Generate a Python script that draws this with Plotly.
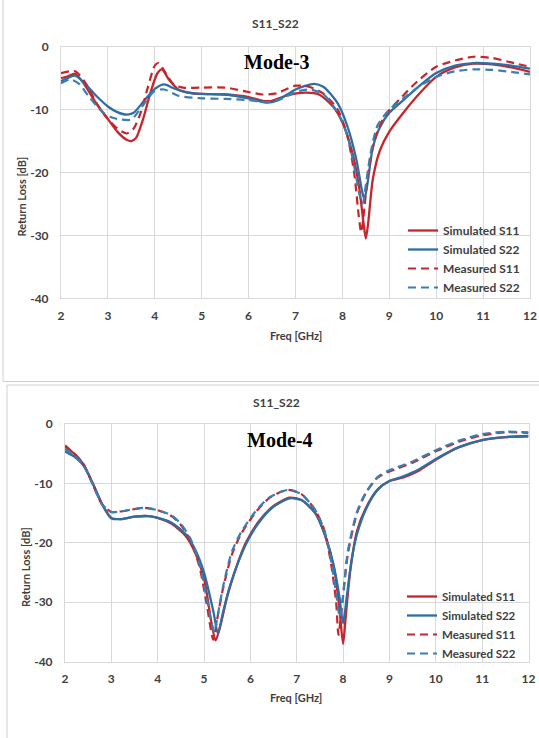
import plotly.graph_objects as go

W, H = 539, 738

# ---------------- Mode-3 (top panel) ----------------
m3_sim_s11_f = [2.0, 2.15, 2.3, 2.5, 2.75, 3.0, 3.2, 3.4, 3.5, 3.6, 3.75, 3.9, 4.05, 4.15, 4.3, 4.5, 4.8, 5.0, 5.5, 6.0, 6.3, 6.5, 6.8, 7.2, 7.5, 7.8, 8.0, 8.2, 8.35, 8.45, 8.5, 8.55, 8.65, 8.8, 9.0, 9.3, 9.6, 10.0, 10.4, 10.8, 11.2, 11.6, 12.0]
m3_sim_s11_db = [-5.0, -4.7, -4.3, -6.0, -9.0, -11.5, -13.5, -14.8, -15.0, -14.5, -11.5, -7.5, -4.3, -3.6, -5.2, -6.8, -7.4, -7.5, -7.6, -8.0, -8.6, -8.6, -7.8, -7.3, -7.6, -9.5, -12.0, -16.5, -22.0, -28.0, -30.5, -28.0, -21.0, -16.5, -13.5, -10.5, -7.8, -4.8, -3.3, -2.7, -2.8, -3.3, -4.0]

m3_sim_s22_f = [2.0, 2.3, 2.5, 2.75, 3.0, 3.2, 3.4, 3.55, 3.75, 4.0, 4.2, 4.4, 4.7, 5.0, 5.5, 6.0, 6.4, 6.6, 7.0, 7.4, 7.6, 7.9, 8.1, 8.3, 8.42, 8.47, 8.53, 8.65, 8.8, 9.0, 9.3, 9.6, 10.0, 10.4, 10.8, 11.2, 11.6, 12.0]
m3_sim_s22_db = [-5.5, -4.6, -5.8, -7.8, -9.5, -10.4, -10.8, -10.5, -8.8, -6.7, -6.0, -6.6, -7.3, -7.5, -7.6, -8.2, -8.9, -8.6, -6.8, -5.9, -6.4, -9.0, -12.5, -18.0, -23.0, -24.2, -22.0, -16.0, -12.8, -10.5, -8.5, -6.5, -4.2, -3.0, -2.6, -2.7, -3.0, -3.5]

m3_meas_s11_f = [2.0, 2.3, 2.5, 2.8, 3.0, 3.2, 3.4, 3.55, 3.7, 3.85, 4.0, 4.08, 4.2, 4.4, 4.6, 5.0, 5.5, 6.0, 6.3, 6.6, 7.0, 7.3, 7.6, 7.9, 8.1, 8.25, 8.35, 8.4, 8.45, 8.55, 8.7, 8.9, 9.2, 9.6, 10.0, 10.4, 10.8, 11.2, 11.6, 12.0]
m3_meas_s11_db = [-4.2, -3.9, -5.5, -9.5, -11.5, -13.0, -13.8, -13.0, -10.5, -6.5, -3.0, -2.6, -3.8, -6.0, -6.5, -6.5, -6.5, -7.2, -7.6, -7.4, -6.2, -6.4, -7.5, -10.0, -14.0, -20.0, -27.0, -29.5, -27.0, -20.0, -14.5, -11.0, -8.5, -5.5, -3.2, -2.2, -1.6, -1.8, -2.5, -3.2]

m3_meas_s22_f = [2.0, 2.2, 2.4, 2.6, 2.9, 3.1, 3.3, 3.5, 3.6, 3.8, 4.0, 4.2, 4.5, 5.0, 5.5, 6.0, 6.4, 6.7, 7.0, 7.3, 7.6, 7.9, 8.1, 8.25, 8.38, 8.43, 8.5, 8.6, 8.75, 9.0, 9.3, 9.6, 10.0, 10.4, 10.8, 11.2, 11.6, 12.0]
m3_meas_s22_db = [-5.8, -5.2, -6.0, -8.0, -10.5, -11.3, -11.6, -11.6, -10.8, -8.8, -7.0, -6.8, -7.8, -8.2, -8.3, -8.5, -8.8, -8.3, -7.2, -6.8, -7.6, -10.5, -14.0, -19.0, -24.0, -25.0, -22.0, -17.0, -12.5, -10.0, -8.2, -6.5, -4.8, -3.9, -3.6, -3.7, -4.0, -4.4]

# ---------------- Mode-4 (bottom panel) ----------------
m4_sim_s11_f = [2.0, 2.2, 2.4, 2.6, 2.8, 3.0, 3.2, 3.5, 3.8, 4.0, 4.3, 4.6, 4.8, 5.0, 5.15, 5.25, 5.35, 5.5, 5.7, 5.9, 6.2, 6.5, 6.85, 7.1, 7.4, 7.6, 7.8, 7.92, 8.0, 8.05, 8.15, 8.3, 8.5, 8.75, 9.0, 9.3, 9.6, 10.0, 10.5, 11.0, 11.5, 12.0]
m4_sim_s11_db = [-3.8, -5.0, -6.8, -10.0, -13.5, -15.8, -16.0, -15.6, -15.5, -15.8, -16.8, -18.8, -21.5, -26.0, -33.0, -36.4, -34.0, -29.0, -24.0, -20.0, -16.2, -13.8, -12.4, -12.8, -15.0, -18.5, -24.0, -31.0, -37.0, -33.0, -25.0, -18.0, -14.0, -11.0, -9.6, -9.0, -8.0, -6.0, -3.9, -2.7, -2.2, -2.0]

m4_sim_s22_f = [2.0, 2.2, 2.4, 2.6, 2.8, 3.0, 3.2, 3.5, 3.8, 4.0, 4.3, 4.6, 4.8, 5.0, 5.2, 5.3, 5.4, 5.55, 5.75, 5.95, 6.2, 6.5, 6.85, 7.1, 7.4, 7.6, 7.8, 7.92, 8.0, 8.08, 8.18, 8.3, 8.5, 8.75, 9.0, 9.3, 9.6, 10.0, 10.5, 11.0, 11.5, 12.0]
m4_sim_s22_db = [-4.6, -5.5, -7.0, -10.0, -13.5, -15.9, -16.0, -15.6, -15.5, -15.8, -16.6, -18.5, -21.0, -25.0, -31.5, -35.3, -32.0, -27.5, -23.0, -19.5, -16.4, -13.9, -12.5, -12.8, -15.0, -18.5, -24.0, -29.0, -33.5, -29.0, -23.0, -18.5, -14.2, -11.0, -9.6, -8.8, -7.8, -5.9, -3.9, -2.7, -2.2, -2.1]

m4_meas_s11_f = [2.0, 2.2, 2.4, 2.6, 2.8, 3.0, 3.3, 3.7, 4.0, 4.3, 4.5, 4.7, 4.9, 5.05, 5.2, 5.28, 5.4, 5.6, 5.8, 6.1, 6.4, 6.8, 7.1, 7.4, 7.6, 7.75, 7.85, 7.9, 7.97, 8.1, 8.3, 8.5, 8.75, 9.0, 9.5, 10.0, 10.5, 11.0, 11.5, 12.0]
m4_meas_s11_db = [-3.6, -5.0, -6.8, -10.2, -13.5, -14.8, -14.6, -14.1, -14.5, -15.5, -17.0, -19.5, -24.0, -30.0, -36.3, -33.0, -28.0, -22.0, -18.5, -15.0, -12.5, -11.1, -11.8, -14.5, -18.0, -24.0, -30.0, -35.5, -31.0, -22.0, -15.0, -11.5, -9.0, -8.0, -6.5, -4.6, -3.0, -1.9, -1.4, -1.5]

m4_meas_s22_f = [2.0, 2.2, 2.4, 2.6, 2.8, 3.0, 3.3, 3.7, 4.0, 4.3, 4.5, 4.7, 4.9, 5.05, 5.22, 5.3, 5.42, 5.6, 5.8, 6.1, 6.4, 6.8, 7.1, 7.4, 7.6, 7.75, 7.85, 7.93, 8.0, 8.1, 8.3, 8.5, 8.75, 9.0, 9.5, 10.0, 10.5, 11.0, 11.5, 12.0]
m4_meas_s22_db = [-4.2, -5.3, -7.0, -10.2, -13.5, -14.8, -14.6, -14.1, -14.5, -15.4, -16.8, -19.2, -23.5, -29.0, -35.0, -32.0, -27.0, -21.5, -18.2, -14.8, -12.4, -11.1, -11.8, -14.5, -18.0, -23.5, -28.5, -32.5, -29.0, -21.5, -14.8, -11.4, -8.9, -7.8, -6.3, -4.4, -2.8, -1.7, -1.3, -1.4]

x_ticks = [2, 3, 4, 5, 6, 7, 8, 9, 10, 11, 12]
x_tick_labels = ["2", "3", "4", "5", "6", "7", "8", "9", "10", "11", "12"]
y_ticks = [0, -10, -20, -30, -40]
y_tick_labels = ["0", "-10", "-20", "-30", "-40"]
series_names = ["Simulated S11", "Simulated S22", "Measured S11", "Measured S22"]
panel_titles = ["S11_S22", "S11_S22"]
mode_labels = ["Mode-3", "Mode-4"]

RED = "#C4262D"
BLUE = "#2D6FA3"
BLUE_D = "#3A7FB2"
FONT = "Lato"
TXT = "#404040"

def px(x):
    return x / W

def py(y):
    return 1 - y / H

fig = go.Figure()

styles = [
    dict(color=RED, width=2.3),
    dict(color=BLUE, width=2.3),
    dict(color=RED, width=2.2, dash="8px,5px"),
    dict(color=BLUE_D, width=2.2, dash="8px,5px"),
]

panels = [
    ([(m3_sim_s11_f, m3_sim_s11_db), (m3_sim_s22_f, m3_sim_s22_db),
      (m3_meas_s11_f, m3_meas_s11_db), (m3_meas_s22_f, m3_meas_s22_db)], "x", "y", "legend"),
    ([(m4_sim_s11_f, m4_sim_s11_db), (m4_sim_s22_f, m4_sim_s22_db),
      (m4_meas_s11_f, m4_meas_s11_db), (m4_meas_s22_f, m4_meas_s22_db)], "x2", "y2", "legend2"),
]

for data, xa, ya, lg in panels:
    for (f, d), name, st in zip(data, series_names, styles):
        fig.add_trace(go.Scatter(
            x=f, y=d, mode="lines", name=name, line=dict(shape="spline", smoothing=0.7, **st),
            xaxis=xa, yaxis=ya, legend=lg, hoverinfo="skip"))

axis_common = dict(
    showgrid=True, gridcolor="#D9D9D9", gridwidth=1, zeroline=False,
    showline=True, linecolor="#D9D9D9", linewidth=1, mirror=True, automargin=False,
    tickfont=dict(family=FONT, size=12, color=TXT, weight="bold"),
    ticks="outside", tickcolor="rgba(0,0,0,0)",
)

fig.update_layout(
    width=W, height=H, margin=dict(l=0, r=0, t=0, b=0, pad=0, autoexpand=False),
    paper_bgcolor="white", plot_bgcolor="white",
    xaxis=dict(domain=[px(61), px(530)], range=[2, 12], tickvals=x_ticks, ticktext=x_tick_labels, ticklen=6, anchor="y", **axis_common),
    yaxis=dict(domain=[py(298.3), py(46.7)], range=[-40, 0], tickvals=y_ticks, ticktext=y_tick_labels, ticklen=9, anchor="x", **axis_common),
    xaxis2=dict(domain=[px(65), px(528.5)], range=[2, 12], tickvals=x_ticks, ticktext=x_tick_labels, ticklen=6, anchor="y2", **axis_common),
    yaxis2=dict(domain=[py(661.7), py(424)], range=[-40, 0], tickvals=y_ticks, ticktext=y_tick_labels, ticklen=9, anchor="x2", **axis_common),
    legend=dict(x=px(403), y=py(216), xanchor="left", yanchor="top", bgcolor="rgba(0,0,0,0)",
                font=dict(family=FONT, size=12, color=TXT, weight="bold"), tracegroupgap=0, itemwidth=30),
    legend2=dict(x=px(402), y=py(582), xanchor="left", yanchor="top", bgcolor="rgba(0,0,0,0)",
                 font=dict(family=FONT, size=11.5, color=TXT, weight="bold"), tracegroupgap=0, itemwidth=30),
    showlegend=True,
)

anns = [
    (275, 24, panel_titles[0], FONT, 12, "bold"),
    (277, 62, mode_labels[0], "Liberation Serif", 20, "bold"),
    (296, 335, "Freq [GHz]", FONT, 11, "bold"),
    (276, 402, panel_titles[1], FONT, 12, "bold"),
    (280, 440, mode_labels[1], "Liberation Serif", 20, "bold"),
    (296, 697, "Freq [GHz]", FONT, 11, "bold"),
]
for x, y, t, fam, sz, wt in anns:
    fig.add_annotation(x=px(x), y=py(y), xref="paper", yref="paper", text=t, showarrow=False,
                       xanchor="center", yanchor="middle",
                       font=dict(family=fam, size=sz, color="#000000" if fam != FONT else TXT, weight=wt))

for x, y in [(20.5, 197), (25, 567)]:
    fig.add_annotation(x=px(x), y=py(y), xref="paper", yref="paper", text="Return Loss [dB]",
                       showarrow=False, textangle=-90, xanchor="center", yanchor="middle",
                       font=dict(family=FONT, size=11, color=TXT, weight="bold"))

# panel frames (kept inside the page)
frame = dict(color="#D0D0D0", width=1)
for x0, y0, x1, y1 in [(3, 0, 3, 381.5), (3, 381.5, 539, 381.5), (7, 385, 7, 738), (7, 385, 539, 385)]:
    fig.add_shape(type="line", xref="paper", yref="paper", x0=px(x0), x1=px(x1), y0=py(y0), y1=py(y1),
                  line=frame, layer="below")

fig.write_html("out.html", config={"displayModeBar": False},
               post_script="document.body.style.margin='0';document.body.style.padding='0';document.body.style.overflow='hidden';")
